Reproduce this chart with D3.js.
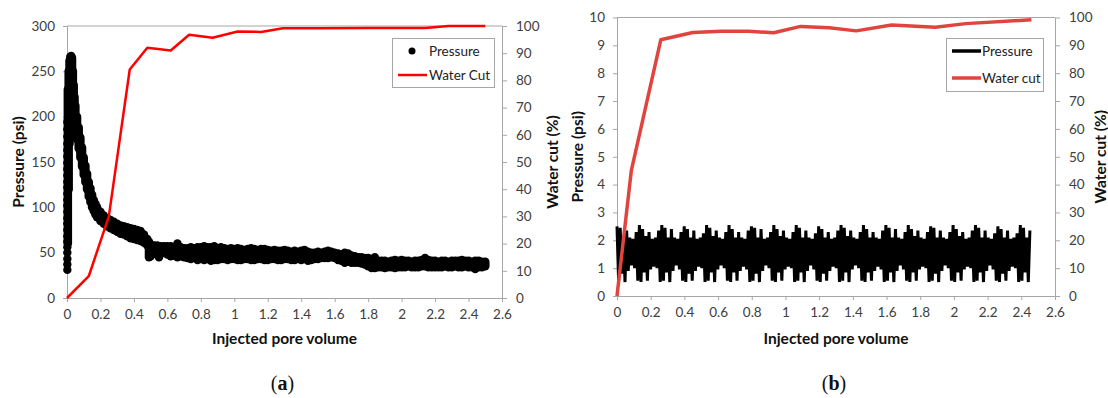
<!DOCTYPE html>
<html>
<head>
<meta charset="utf-8">
<script src="https://cdn.jsdelivr.net/npm/d3@7"></script>
<style>
body { margin: 0; background: #fff; }
svg text { font-family: Lato, "Open Sans", sans-serif; }
.tick text { fill: #404040; font-size: 13.5px; }
.domain, .tick line { stroke: #a6a6a6; }
.title { font-weight: bold; font-size: 15.5px; fill: #111; }
.leg { font-size: 13.5px; fill: #222; }
</style>
</head>
<body>
<svg id="chart" width="1108" height="398"></svg>
<script>
// ---- shared ticks
var xTicks = [0, 0.2, 0.4, 0.6, 0.8, 1, 1.2, 1.4, 1.6, 1.8, 2, 2.2, 2.4, 2.6];
var pTicksA = [0, 50, 100, 150, 200, 250, 300];
var pTicksB = [0, 1, 2, 3, 4, 5, 6, 7, 8, 9, 10];
var wcTicks = [0, 10, 20, 30, 40, 50, 60, 70, 80, 90, 100];

// ---- panel (a): pressure scatter, first readings at start of injection
var pInitA = [[0.002, 31], [0.002, 37], [0.002, 43], [0.002, 50], [0.002, 56], [0.002, 62], [0.002, 68],
    [0.002, 75], [0.002, 82], [0.002, 88], [0.002, 95], [0.002, 102], [0.002, 108], [0.002, 115],
    [0.002, 122], [0.002, 128], [0.002, 135], [0.002, 142], [0.002, 149], [0.002, 156], [0.002, 163],
    [0.002, 170], [0.002, 178], [0.002, 186], [0.002, 194]];

// dense part of the scatter: per pore volume, lowest and highest reading
var pvA = [0.005, 0.01, 0.015, 0.02, 0.025, 0.03, 0.035, 0.04, 0.045, 0.05, 0.06, 0.07, 0.08, 0.09, 0.10,
    0.11, 0.12, 0.13, 0.14, 0.15, 0.16, 0.17, 0.18, 0.20, 0.22, 0.24, 0.26, 0.28, 0.30, 0.32, 0.34, 0.36,
    0.38, 0.40, 0.42, 0.44, 0.46, 0.48, 0.49, 0.50, 0.52, 0.54, 0.55, 0.56, 0.58, 0.60, 0.62, 0.64, 0.66,
    0.68, 0.70, 0.72, 0.74, 0.76, 0.78, 0.80, 0.82, 0.84, 0.86, 0.88, 0.90, 0.92, 0.94, 0.96, 0.98,
    1.00, 1.02, 1.04, 1.06, 1.08, 1.10, 1.12, 1.14, 1.16, 1.18, 1.20, 1.22, 1.24, 1.26, 1.28, 1.30,
    1.32, 1.34, 1.36, 1.38, 1.40, 1.42, 1.44, 1.46, 1.48, 1.50, 1.52, 1.54, 1.56, 1.58, 1.60, 1.62,
    1.64, 1.66, 1.68, 1.70, 1.72, 1.74, 1.76, 1.78, 1.80, 1.82, 1.84, 1.86, 1.88, 1.90, 1.92, 1.94,
    1.96, 1.98, 2.00, 2.02, 2.04, 2.06, 2.08, 2.10, 2.12, 2.14, 2.16, 2.18, 2.20, 2.22, 2.24, 2.26,
    2.28, 2.30, 2.32, 2.34, 2.36, 2.38, 2.40, 2.42, 2.44, 2.46, 2.48, 2.50];
var pLoA = [60, 120, 170, 200, 210, 205, 200, 195, 190, 185, 175, 165, 155, 145, 136,
    128, 120, 112, 106, 100, 96, 92, 89, 85, 82, 79, 77, 75, 73, 71, 70, 68,
    66, 65, 64, 63, 61, 58, 45, 46, 49, 48, 45, 49, 50, 48, 46, 47, 45,
    46, 45, 44, 43, 44, 42, 43, 42, 43, 41, 42, 42, 43, 43, 42, 43,
    43, 42, 42, 43, 43, 42, 42, 43, 43, 42, 42, 43, 43, 42, 42, 43,
    43, 42, 42, 43, 42, 43, 41, 42, 43, 43, 44, 44, 44, 45, 44, 42,
    41, 39, 40, 39, 39, 39, 38, 37, 35, 33, 33, 34, 34, 33, 34, 34,
    33, 34, 34, 34, 35, 34, 34, 34, 35, 35, 34, 34, 34, 34, 34, 35,
    34, 34, 35, 34, 34, 35, 34, 34, 32, 34, 34, 35];
var pHiA = [230, 250, 262, 266, 267, 265, 250, 235, 222, 212, 200, 188, 177, 166, 155,
    146, 137, 128, 121, 114, 108, 104, 100, 95, 91, 88, 86, 84, 82, 80, 79, 78,
    77, 76, 75, 74, 70, 65, 62, 59, 58, 58, 57, 57, 57, 57, 57, 56, 60,
    56, 55, 55, 56, 55, 56, 56, 57, 56, 56, 57, 55, 56, 55, 54, 55,
    54, 55, 54, 53, 54, 55, 54, 53, 54, 54, 53, 52, 53, 52, 52, 53,
    52, 51, 52, 51, 52, 53, 51, 50, 50, 51, 50, 51, 52, 51, 50, 49,
    48, 50, 49, 47, 46, 45, 45, 44, 44, 43, 45, 41, 41, 41, 40, 41,
    42, 41, 42, 41, 41, 40, 41, 41, 42, 44, 42, 41, 41, 40, 41, 41,
    40, 41, 41, 41, 42, 41, 41, 40, 41, 41, 40, 40];

// water cut (%), panel (a)
var wcPvA = [0, 0.13, 0.25, 0.375, 0.48, 0.62, 0.73, 0.87, 1.02, 1.16, 1.29, 1.5, 1.8, 2.14, 2.28, 2.5];
var wcA = [0, 8, 30, 84, 92, 91, 96.8, 95.7, 98, 97.8, 99.2, 99.2, 99.3, 99.3, 100, 100];

// ---- panel (b): pressure readings (psi) taken every pvStepB pore volumes
var pvStepB = 0.0095;
var pressureB = [
    2.5, 0.55, 2.45, 0.8, 2.1, 0.5, 2.35, 0.9, 2.1, 1.1, 2.05, 1.0, 2.3, 0.55,
    2.55, 0.5, 2.4, 0.85, 2.15, 0.55, 2.3, 0.95, 2.05, 1.05, 2.1, 1.0, 2.35, 0.5,
    2.55, 0.55, 2.45, 0.85, 2.1, 0.5, 2.4, 0.9, 2.1, 1.1, 2.05, 0.95, 2.3, 0.55,
    2.5, 0.5, 2.4, 0.8, 2.1, 0.55, 2.35, 0.9, 2.05, 1.05, 2.1, 1.0, 2.25, 0.5,
    2.55, 0.55, 2.45, 0.85, 2.15, 0.5, 2.35, 0.95, 2.1, 1.1, 2.05, 1.0, 2.3, 0.55,
    2.55, 0.5, 2.4, 0.85, 2.1, 0.55, 2.3, 0.9, 2.1, 1.05, 2.05, 0.95, 2.35, 0.5,
    2.5, 0.55, 2.45, 0.8, 2.1, 0.5, 2.4, 0.9, 2.05, 1.1, 2.1, 1.0, 2.3, 0.55,
    2.55, 0.5, 2.4, 0.85, 2.15, 0.55, 2.35, 0.95, 2.1, 1.05, 2.05, 1.0, 2.3, 0.5,
    2.55, 0.55, 2.45, 0.85, 2.1, 0.5, 2.35, 0.9, 2.1, 1.1, 2.05, 0.95, 2.25, 0.55,
    2.5, 0.5, 2.4, 0.8, 2.1, 0.55, 2.3, 0.9, 2.05, 1.05, 2.1, 1.0, 2.35, 0.5,
    2.55, 0.55, 2.45, 0.85, 2.15, 0.5, 2.35, 0.95, 2.1, 1.1, 2.05, 1.0, 2.3, 0.55,
    2.55, 0.5, 2.4, 0.85, 2.1, 0.55, 2.3, 0.9, 2.1, 1.05, 2.05, 0.95, 2.35, 0.5,
    2.55, 0.55, 2.45, 0.85, 2.1, 0.5, 2.4, 0.9, 2.1, 1.1, 2.05, 0.95, 2.3, 0.55,
    2.55, 0.5, 2.4, 0.85, 2.15, 0.55, 2.35, 0.95, 2.1, 1.05, 2.05, 1.0, 2.3, 0.5,
    2.5, 0.55, 2.45, 0.8, 2.1, 0.5, 2.35, 0.9, 2.1, 1.1, 2.05, 1.0, 2.3, 0.55,
    2.55, 0.5, 2.4, 0.85, 2.15, 0.55, 2.3, 0.95, 2.05, 1.05, 2.1, 1.0, 2.35, 0.5,
    2.55, 0.55, 2.45, 0.85, 2.1, 0.5, 2.35, 0.9, 2.1, 1.1, 2.05, 0.95, 2.25, 0.55,
    2.5, 0.5, 2.4, 0.8, 2.1, 0.55, 2.35, 0.9, 2.05, 1.05, 2.1, 1.0, 2.25, 0.5,
    2.55, 0.55, 2.45, 0.85, 2.1, 0.5, 2.35];

// water cut (%), panel (b)
var wcPvB = [0, 0.085, 0.26, 0.45, 0.62, 0.78, 0.93, 1.09, 1.26, 1.42, 1.63, 1.89, 2.07, 2.46];
var wcB = [0, 45, 92, 94.6, 95.1, 95.1, 94.5, 96.8, 96.3, 95.2, 97.3, 96.5, 97.8, 99.2];

var svg = d3.select("#chart");
var fmt = d3.format("~g");

// axes + frame for one panel
function drawFrame(x, yL, yR, pTicks) {
    var x0 = x.range()[0], x1 = x.range()[1];
    var y0 = yL.range()[0], y1 = yL.range()[1];

    // top border line
    svg.append("line")
        .attr("x1", x0).attr("x2", x1)
        .attr("y1", y1).attr("y2", y1)
        .attr("stroke", "#a6a6a6");

    svg.append("g")
        .attr("transform", "translate(0," + y0 + ")")
        .call(d3.axisBottom(x).tickValues(xTicks).tickFormat(fmt).tickSize(4).tickSizeOuter(0).tickPadding(7));

    svg.append("g")
        .attr("transform", "translate(" + x0 + ",0)")
        .call(d3.axisLeft(yL).tickValues(pTicks).tickFormat(fmt).tickSize(4).tickSizeOuter(0).tickPadding(8));

    svg.append("g")
        .attr("transform", "translate(" + x1 + ",0)")
        .call(d3.axisRight(yR).tickValues(wcTicks).tickSize(5).tickSizeOuter(0).tickPadding(9));
}

function drawTitles(x, yL, leftX, rightX, caption) {
    var cx = (x.range()[0] + x.range()[1]) / 2;
    var cy = (yL.range()[0] + yL.range()[1]) / 2;

    svg.append("text").attr("class", "title")
        .attr("x", cx).attr("y", 344)
        .attr("text-anchor", "middle")
        .text("Injected pore volume");

    svg.append("text").attr("class", "title")
        .attr("transform", "translate(" + leftX + "," + cy + ") rotate(-90)")
        .attr("text-anchor", "middle")
        .attr("dy", "0.35em")
        .text("Pressure (psi)");

    svg.append("text").attr("class", "title")
        .attr("transform", "translate(" + rightX + "," + cy + ") rotate(-90)")
        .attr("text-anchor", "middle")
        .attr("dy", "0.35em")
        .text("Water cut (%)");

    var cap = svg.append("text")
        .attr("x", cx - 2).attr("y", 390)
        .attr("text-anchor", "middle")
        .style("font-family", "'Liberation Serif', 'DejaVu Serif', serif")
        .style("font-size", "20px")
        .attr("fill", "#111");
    cap.append("tspan").text("(");
    cap.append("tspan").attr("font-weight", "bold").text(caption);
    cap.append("tspan").text(")");
}

/* ------------------------- panel (a) ------------------------- */
var xA = d3.scaleLinear().domain([0, 2.6]).range([67, 502]);
var yA = d3.scaleLinear().domain([0, 300]).range([298, 26]);
var yA2 = d3.scaleLinear().domain([0, 100]).range([298, 26]);

drawFrame(xA, yA, yA2, pTicksA);

// dense scatter: each sample drawn as a stack of markers from low to high reading
var bandA = pvA.map(function (pv, i) { return { pv: pv, lo: pLoA[i], hi: pHiA[i] }; });
svg.append("g").selectAll("line")
    .data(bandA)
    .enter().append("line")
    .attr("x1", function (d) { return xA(d.pv); })
    .attr("x2", function (d) { return xA(d.pv); })
    .attr("y1", function (d) { return yA(d.lo); })
    .attr("y2", function (d) { return yA(d.hi); })
    .attr("stroke", "#000")
    .attr("stroke-width", 8.5)
    .attr("stroke-linecap", "round");

svg.append("g").selectAll("circle")
    .data(pInitA)
    .enter().append("circle")
    .attr("cx", function (d) { return xA(d[0]); })
    .attr("cy", function (d) { return yA(d[1]); })
    .attr("r", 4.2)
    .attr("fill", "#000");

svg.append("path")
    .datum(wcPvA.map(function (pv, i) { return [pv, wcA[i]]; }))
    .attr("fill", "none")
    .attr("stroke", "#ff0000")
    .attr("stroke-width", 2.5)
    .attr("stroke-linejoin", "round")
    .attr("d", d3.line().x(function (d) { return xA(d[0]); }).y(function (d) { return yA2(d[1]); }));

// legend (a)
var legA = svg.append("g");
legA.append("rect").attr("x", 392.5).attr("y", 38.5).attr("width", 102).attr("height", 49)
    .attr("fill", "#fff").attr("stroke", "#a6a6a6");
legA.append("circle").attr("cx", 412).attr("cy", 51).attr("r", 3.5).attr("fill", "#000");
legA.append("text").attr("class", "leg").attr("x", 429).attr("y", 51).attr("dy", "0.35em").text("Pressure");
legA.append("line").attr("x1", 398).attr("x2", 427).attr("y1", 75).attr("y2", 75)
    .attr("stroke", "#ff0000").attr("stroke-width", 2.5);
legA.append("text").attr("class", "leg").attr("x", 429).attr("y", 75).attr("dy", "0.35em").text("Water Cut");

drawTitles(xA, yA, 19, 553, "a");

/* ------------------------- panel (b) ------------------------- */
var xB = d3.scaleLinear().domain([0, 2.6]).range([617, 1055]);
var yB = d3.scaleLinear().domain([0, 10]).range([296, 17.5]);
var yB2 = d3.scaleLinear().domain([0, 100]).range([296, 17.5]);

drawFrame(xB, yB, yB2, pTicksB);

svg.append("path")
    .datum(pressureB.map(function (v, i) { return [i * pvStepB, v]; }))
    .attr("fill", "none")
    .attr("stroke", "#000")
    .attr("stroke-width", 3)
    .attr("stroke-linejoin", "bevel")
    .attr("d", d3.line().x(function (d) { return xB(d[0]); }).y(function (d) { return yB(d[1]); }));

svg.append("path")
    .datum(wcPvB.map(function (pv, i) { return [pv, wcB[i]]; }))
    .attr("fill", "none")
    .attr("stroke", "#e0443e")
    .attr("stroke-width", 3.5)
    .attr("stroke-linejoin", "round")
    .attr("d", d3.line().x(function (d) { return xB(d[0]); }).y(function (d) { return yB2(d[1]); }));

// legend (b)
var legB = svg.append("g");
legB.append("rect").attr("x", 946.5).attr("y", 38.5).attr("width", 97).attr("height", 53)
    .attr("fill", "#fff").attr("stroke", "#a6a6a6");
legB.append("line").attr("x1", 952).attr("x2", 981).attr("y1", 51).attr("y2", 51)
    .attr("stroke", "#000").attr("stroke-width", 3.5);
legB.append("text").attr("class", "leg").attr("x", 982).attr("y", 51).attr("dy", "0.35em").text("Pressure");
legB.append("line").attr("x1", 952).attr("x2", 981).attr("y1", 78).attr("y2", 78)
    .attr("stroke", "#e0443e").attr("stroke-width", 3.5);
legB.append("text").attr("class", "leg").attr("x", 982).attr("y", 78).attr("dy", "0.35em").text("Water cut");

drawTitles(xB, yB, 578, 1101, "b");
</script>
</body>
</html>
